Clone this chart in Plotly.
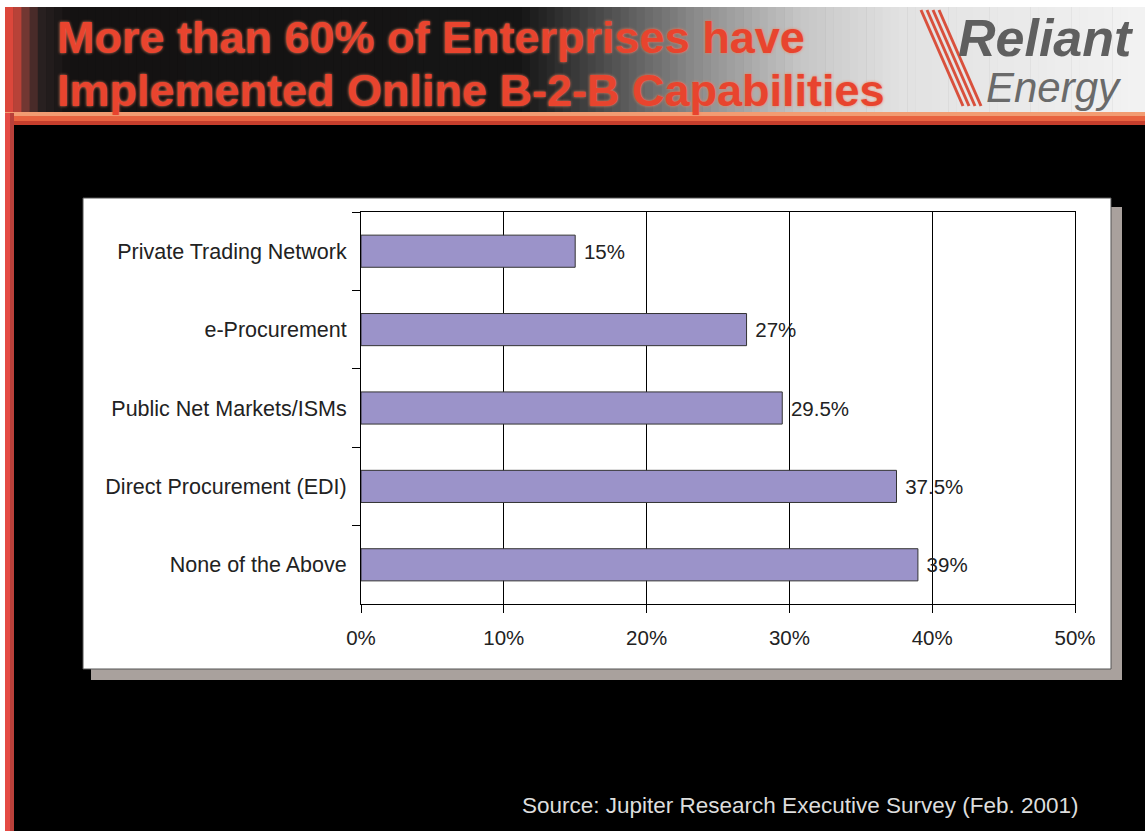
import numpy as np
import plotly.graph_objects as go

# ---------------- data ----------------
categories = [
    "Private Trading Network",
    "e-Procurement",
    "Public Net Markets/ISMs",
    "Direct Procurement (EDI)",
    "None of the Above",
]
values = [15, 27, 29.5, 37.5, 39]
value_labels = ["15%", "27%", "29.5%", "37.5%", "39%"]
x_tick_vals = [0, 10, 20, 30, 40, 50]
x_tick_text = ["0%", "10%", "20%", "30%", "40%", "50%"]
title_line1 = "More than 60% of Enterprises have"
title_line2 = "Implemented Online B-2-B Capabilities"
source_text = "Source: Jupiter Research Executive Survey (Feb. 2001)"

# ---------------- helpers ----------------
W, H = 1145, 831


def fx(x):
    return x / W


def fy(y):
    return 1 - y / H


def rect(x0, y0, x1, y1, color, line=None, layer="below"):
    d = dict(type="rect", xref="paper", yref="paper",
             x0=fx(x0), x1=fx(x1), y0=fy(y1), y1=fy(y0),
             fillcolor=color, layer=layer,
             line=dict(width=0) if line is None else line)
    return d


def hex2rgb(h):
    h = h.lstrip("#")
    return [int(h[i:i + 2], 16) for i in (0, 2, 4)]


shapes = []
# white frame strips on top/left
shapes.append(rect(0, 0, W, 7, "#ffffff"))
shapes.append(rect(0, 0, 5, H, "#ffffff"))

# header horizontal gradient
stops = [(5, "#e0483c"), (14, "#d8463a"), (24, "#7a3a34"), (40, "#2a2222"),
         (70, "#141212"), (520, "#161616"), (600, "#4a4a4a"), (700, "#8e8e8e"),
         (800, "#c6c6c6"), (900, "#e2e2e2"), (1145, "#f3f3f3")]
sx = [s[0] for s in stops]
sc = np.array([hex2rgb(s[1]) for s in stops])
edges = np.linspace(5, W, 140)
for a, b in zip(edges[:-1], edges[1:]):
    m = (a + b) / 2
    c = [int(np.interp(m, sx, sc[:, k])) for k in range(3)]
    shapes.append(rect(a, 7, b + 0.6, 113, "rgb(%d,%d,%d)" % tuple(c)))

# orange bar under header
shapes.append(rect(5, 112, W, 116, "#f29c72"))
shapes.append(rect(5, 116, W, 121, "#e8623f"))
shapes.append(rect(5, 121, W, 125, "#c63e2c"))

# left red strip
shapes.append(rect(5, 113, 10, H, "#e44a44"))
shapes.append(rect(10, 113, 14, H, "#b8403a"))

# chart card + shadow
shapes.append(rect(91, 207, 1122, 680, "#a9a19d"))
shapes.append(rect(83, 198, 1111, 669, "#ffffff", line=dict(color="#555555", width=1)))

# logo stripes
for k in range(4):
    shapes.append(dict(type="line", xref="paper", yref="paper",
                       x0=fx(921 + 6 * k), y0=fy(10), x1=fx(963 + 6 * k), y1=fy(106),
                       line=dict(color="#d9503c", width=3), layer="above"))

# ---------------- figure ----------------
fig = go.Figure()
fig.add_trace(go.Bar(
    x=values, y=categories, orientation="h",
    width=0.41,
    marker=dict(color="#9b93c9", line=dict(color="#333333", width=1)),
    text=value_labels, texttemplate=" %{text}", textposition="outside", cliponaxis=False,
    textfont=dict(family="Liberation Sans, Arial, sans-serif", size=20.5, color="#222222"),
    hoverinfo="skip",
))

annotations = [
    dict(text=title_line1, x=fx(55), y=fy(37), xref="paper", yref="paper",
         xanchor="left", yanchor="middle", showarrow=False,
         font=dict(family="Liberation Sans, Arial, sans-serif", size=45, color="#e8442e",
                   weight="bold", shadow="0 0 3px #f08060")),
    dict(text=title_line2, x=fx(55), y=fy(91), xref="paper", yref="paper",
         xanchor="left", yanchor="middle", showarrow=False,
         font=dict(family="Liberation Sans, Arial, sans-serif", size=45, color="#e8442e",
                   weight="bold", shadow="0 0 3px #f08060")),
    dict(text="Reliant", x=fx(1136), y=fy(38), xref="paper", yref="paper",
         xanchor="right", yanchor="middle", showarrow=False,
         font=dict(family="Liberation Sans, Arial, sans-serif", size=52, color="#5f5f5f",
                   weight="bold", style="italic")),
    dict(text="Energy", x=fx(1124), y=fy(87), xref="paper", yref="paper",
         xanchor="right", yanchor="middle", showarrow=False,
         font=dict(family="Liberation Sans Narrow, Liberation Sans, Arial, sans-serif", size=42,
                   color="#6a6a6a", style="italic")),
    dict(text=source_text, x=fx(1081), y=fy(805), xref="paper", yref="paper",
         xanchor="right", yanchor="middle", showarrow=False,
         font=dict(family="Liberation Sans, Arial, sans-serif", size=22.5, color="#dddddd")),
]

fig.update_layout(
    width=W, height=H, autosize=False,
    margin=dict(l=0, r=0, t=0, b=0, pad=0, autoexpand=False),
    paper_bgcolor="#000000",
    plot_bgcolor="rgba(0,0,0,0)",
    showlegend=False,
    shapes=shapes,
    annotations=annotations,
    xaxis=dict(
        domain=[fx(361), fx(1075)],
        range=[0, 50],
        tickvals=x_tick_vals, ticktext=x_tick_text,
        showgrid=True, gridcolor="#000000", gridwidth=1,
        showline=True, linecolor="#000000", linewidth=1, mirror=True,
        ticks="outside", ticklen=8, tickcolor="#000000",
        zeroline=False,
        tickfont=dict(family="Liberation Sans, Arial, sans-serif", size=20.5, color="#222222"),
        ticklabelstandoff=7,
        automargin=False, fixedrange=True,
    ),
    yaxis=dict(
        domain=[fy(604), fy(212)],
        type="category", autorange="reversed",
        tickson="boundaries", ticks="outside", ticklen=8, tickcolor="#000000",
        showgrid=False, showline=True, linecolor="#000000", linewidth=1, mirror=True,
        tickfont=dict(family="Liberation Sans, Arial, sans-serif", size=21.5, color="#222222"),
        ticklabelstandoff=9,
        automargin=False, fixedrange=True,
    ),
)

fig.write_html("out.html")
